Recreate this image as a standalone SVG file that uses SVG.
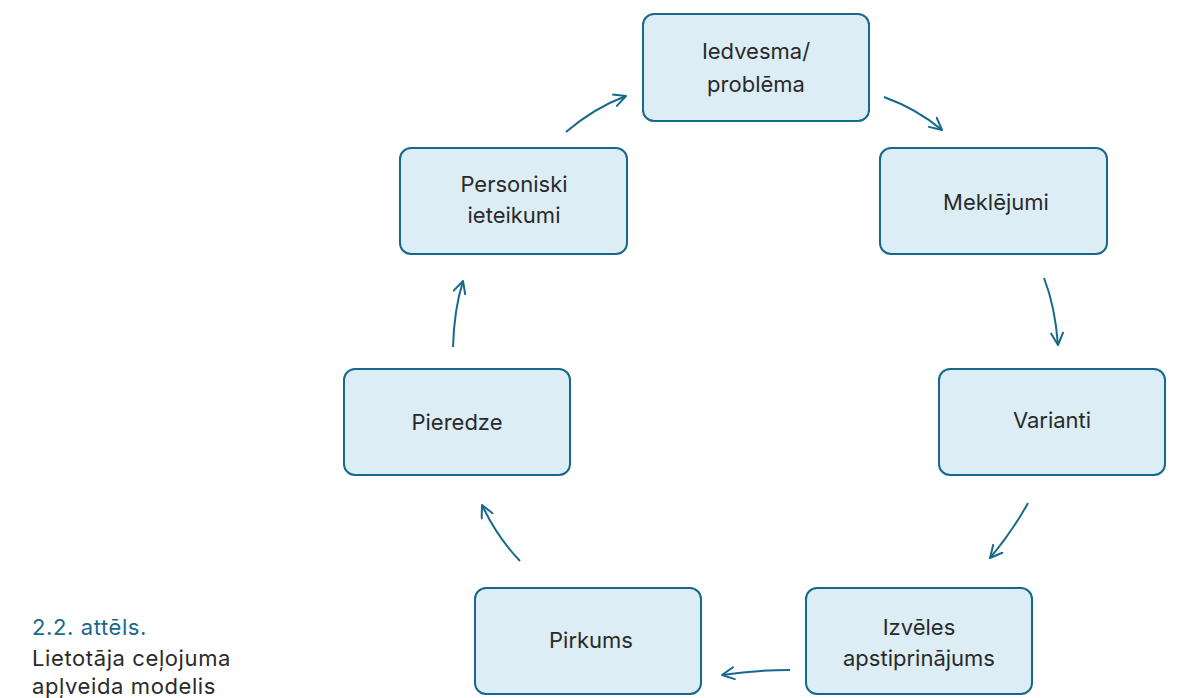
<svg xmlns="http://www.w3.org/2000/svg" width="1180" height="698" viewBox="0 0 1180 698">
<style>
.box{fill:#dcedf5;stroke:#17698b;stroke-width:2}
.t{font-family:Inter,"Noto Sans","DejaVu Sans",sans-serif;font-size:22px;fill:#2a2a2a;text-anchor:middle}
.c{fill:none;stroke:#17698b;stroke-width:2;marker-end:url(#ah)}
.cap{font-family:Inter,"Noto Sans","DejaVu Sans",sans-serif;font-size:22px;letter-spacing:0.6px}
</style>
<defs>
<marker id="ah" viewBox="0 0 14 14" refX="13" refY="7" markerWidth="14" markerHeight="14" markerUnits="userSpaceOnUse" orient="auto">
<path d="M1,1 L13,7 L1,13" fill="none" stroke="#17698b" stroke-width="2" stroke-linecap="round" stroke-linejoin="round"/>
</marker>
</defs>
<rect width="1180" height="698" fill="#ffffff"/>
<g id="connectors">
<path class="c" d="M566,132 Q594,108 626,96"/>
<path class="c" d="M884,97 Q917,109 942,130"/>
<path class="c" d="M1044,278 Q1055,306 1058,345"/>
<path class="c" d="M1028,503 Q1012,532 990,558"/>
<path class="c" d="M790,670 Q755,670 722,675"/>
<path class="c" d="M520,561 Q497,537 482,505"/>
<path class="c" d="M453,347 Q454,310 463,281"/>
</g>
<g id="n1"><rect class="box" x="643" y="14" width="226" height="107" rx="11"/><text class="t" x="756" y="59">Iedvesma/</text><text class="t" x="756" y="92">problēma</text></g>
<g id="n2"><rect class="box" x="880" y="148" width="227" height="106" rx="11"/><text class="t" x="996" y="210">Meklējumi</text></g>
<g id="n3"><rect class="box" x="939" y="369" width="226" height="106" rx="11"/><text class="t" x="1052" y="428">Varianti</text></g>
<g id="n4"><rect class="box" x="806" y="588" width="226" height="106" rx="11"/><text class="t" x="919" y="635">Izvēles</text><text class="t" x="919" y="666">apstiprinājums</text></g>
<g id="n5"><rect class="box" x="475" y="588" width="226" height="106" rx="11"/><text class="t" x="591" y="648">Pirkums</text></g>
<g id="n6"><rect class="box" x="344" y="369" width="226" height="106" rx="11"/><text class="t" x="457" y="430">Pieredze</text></g>
<g id="n7"><rect class="box" x="400" y="148" width="227" height="106" rx="11"/><text class="t" x="514" y="192">Personiski</text><text class="t" x="514" y="223">ieteikumi</text></g>
<g id="caption">
<text class="cap" x="32" y="635" fill="#17698b">2.2. attēls.</text>
<text class="cap" x="32" y="666" fill="#2a2a2a">Lietotāja ceļojuma</text>
<text class="cap" x="32" y="694" fill="#2a2a2a">apļveida modelis</text>
</g>
</svg>
